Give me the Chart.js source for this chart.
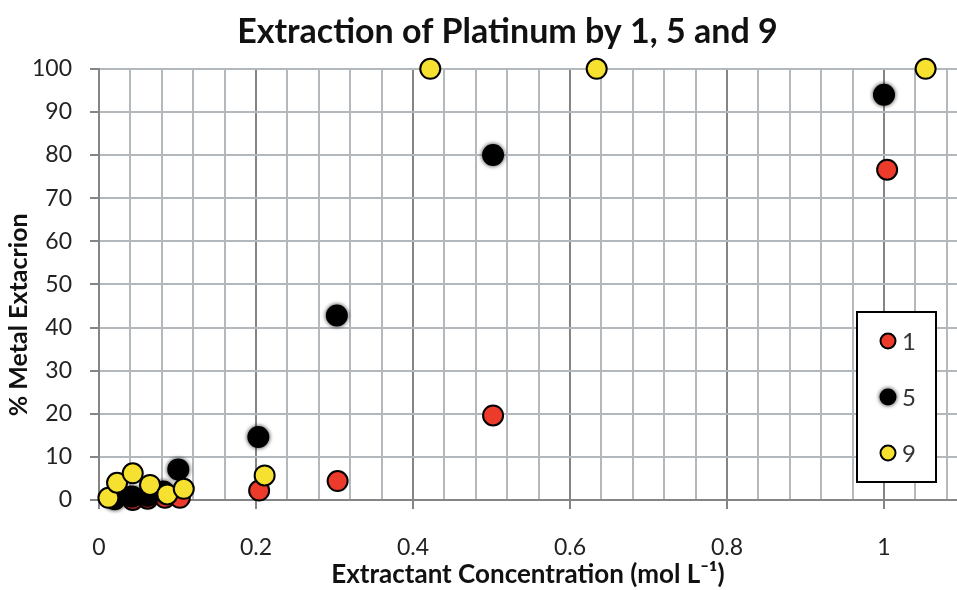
<!DOCTYPE html>
<html>
<head>
<meta charset="utf-8">
<script src="https://cdn.jsdelivr.net/npm/chart.js@4.4.0/dist/chart.umd.min.js"></script>
<style>
  body { margin: 0; background: #fff; }
  #wrap { width: 957px; height: 590px; }
</style>
</head>
<body>
<div id="wrap"><canvas id="chart"></canvas></div>
<script>
// values
const x1 = [0.043, 0.062, 0.084, 0.103, 0.204, 0.304, 0.502, 1.004];
const y1 = [0.0, 0.3, 0.5, 0.5, 2.2, 4.4, 19.6, 76.6];

const x5 = [0.02, 0.042, 0.062, 0.082, 0.101, 0.203, 0.303, 0.502, 1.0];
const y5 = [0.2, 0.8, 1.0, 2.0, 7.1, 14.6, 42.8, 80.0, 94.0];

const x9 = [0.012, 0.023, 0.043, 0.065, 0.087, 0.108, 0.211, 0.422, 0.634, 1.053];
const y9 = [0.5, 4.0, 6.2, 3.5, 1.3, 2.6, 5.7, 100, 100, 100];

const seriesLabels = ['1', '5', '9'];
const xTickLabels = ['0', '0.2', '0.4', '0.6', '0.8', '1'];

const font = 'Lato, "Open Sans", sans-serif';
const majorGrid = '#858585';
const minorGrid = '#b3b8bd';

function toPoints(xs, ys) {
  return xs.map((x, i) => ({ x: x, y: ys[i] }));
}

function isMajor(v) {
  return Math.abs(v / 0.2 - Math.round(v / 0.2)) < 1e-6;
}

function tickText(v) {
  if (!isMajor(v)) return '';
  const idx = Math.round(v / 0.2);
  return xTickLabels[idx] || '';
}

// the black markers look a bit fuzzy in the original
const softBlack = {
  id: 'softBlack',
  beforeDatasetDraw(chart, args) {
    if (args.index !== 1) return;
    chart.ctx.save();
    chart.ctx.shadowColor = 'rgba(0,0,0,0.7)';
    chart.ctx.shadowBlur = 4;
  },
  afterDatasetDraw(chart, args) {
    if (args.index !== 1) return;
    chart.ctx.restore();
  }
};

// legend box drawn inside the plot, like the original
const boxLegend = {
  id: 'boxLegend',
  afterDatasetsDraw(chart) {
    const ctx = chart.ctx;
    const area = chart.chartArea;
    const left = area.right - 100, top = 312, w = 79, h = 170;
    ctx.save();
    ctx.fillStyle = '#fff';
    ctx.fillRect(left, top, w, h);
    ctx.strokeStyle = '#000';
    ctx.lineWidth = 2;
    ctx.strokeRect(left, top, w, h);
    chart.data.datasets.forEach((ds, i) => {
      const cy = top + 29 + i * 56;
      const cx = left + 31;
      ctx.save();
      if (i === 1) {
        ctx.shadowColor = 'rgba(0,0,0,0.7)';
        ctx.shadowBlur = 4;
      }
      ctx.beginPath();
      ctx.arc(cx, cy, 7.5, 0, Math.PI * 2);
      ctx.fillStyle = ds.backgroundColor;
      ctx.fill();
      ctx.lineWidth = 2;
      ctx.strokeStyle = '#000';
      ctx.stroke();
      ctx.restore();
      ctx.fillStyle = '#333';
      ctx.font = '24px ' + font;
      ctx.textBaseline = 'middle';
      ctx.textAlign = 'left';
      ctx.fillText(seriesLabels[i], cx + 14, cy + 1);
    });
    ctx.restore();
  }
};

const ctx = document.getElementById('chart').getContext('2d');
new Chart(ctx, {
  type: 'scatter',
  data: {
    datasets: [
      { label: seriesLabels[0], data: toPoints(x1, y1), backgroundColor: '#ec3b2a', order: 2 },
      { label: seriesLabels[1], data: toPoints(x5, y5), backgroundColor: '#000000', order: 1 },
      { label: seriesLabels[2], data: toPoints(x9, y9), backgroundColor: '#f6e130', order: 0 }
    ].map(ds => Object.assign(ds, {
      pointRadius: 10,
      pointHoverRadius: 10,
      borderColor: '#000',
      borderWidth: 2,
      clip: false
    }))
  },
  options: {
    responsive: true,
    maintainAspectRatio: false,
    animation: false,
    layout: { padding: 0, autoPadding: false },
    plugins: {
      legend: { display: false },
      tooltip: { enabled: false },
      title: {
        display: true,
        text: '       Extraction of Platinum by 1, 5 and 9',
        color: '#111',
        font: { family: font, size: 34, weight: 'bold' },
        padding: { top: 12, bottom: 16 }
      }
    },
    scales: {
      x: {
        type: 'linear',
        min: 0,
        max: 1.093,
        bounds: 'data',
        afterFit(scale) {
          scale.height = 90;
          scale.paddingLeft = 0;
          scale.paddingRight = 0;
        },
        ticks: {
          stepSize: 0.04,
          includeBounds: false,
          autoSkip: false,
          maxRotation: 0,
          padding: 25,
          color: '#222',
          font: { family: font, size: 23 },
          callback: v => tickText(v)
        },
        grid: {
          lineWidth: 2,
          tickLength: 9,
          color: c => isMajor(c.tick.value) ? majorGrid : minorGrid,
          tickColor: c => isMajor(c.tick.value) ? majorGrid : 'rgba(0,0,0,0)'
        },
        border: { color: majorGrid, width: 2 },
        title: {
          display: true,
          text: 'Extractant Concentration (mol L\u207B\u00B9)',
          color: '#111',
          font: { family: font, size: 26, weight: 'bold' },
          padding: { top: 0, bottom: 0 }
        }
      },
      y: {
        min: 0,
        max: 100,
        afterFit(scale) {
          scale.width = 99;
        },
        ticks: {
          stepSize: 10,
          padding: 18,
          color: '#222',
          font: { family: font, size: 23 }
        },
        grid: {
          lineWidth: 2,
          tickLength: 9,
          color: minorGrid,
          tickColor: majorGrid
        },
        border: { color: majorGrid, width: 2 },
        title: {
          display: true,
          text: '% Metal Extacrion          ',
          color: '#111',
          font: { family: font, size: 25, weight: 'bold' },
          padding: { top: 4, bottom: 0 }
        }
      }
    }
  },
  plugins: [softBlack, boxLegend]
});
</script>
</body>
</html>
